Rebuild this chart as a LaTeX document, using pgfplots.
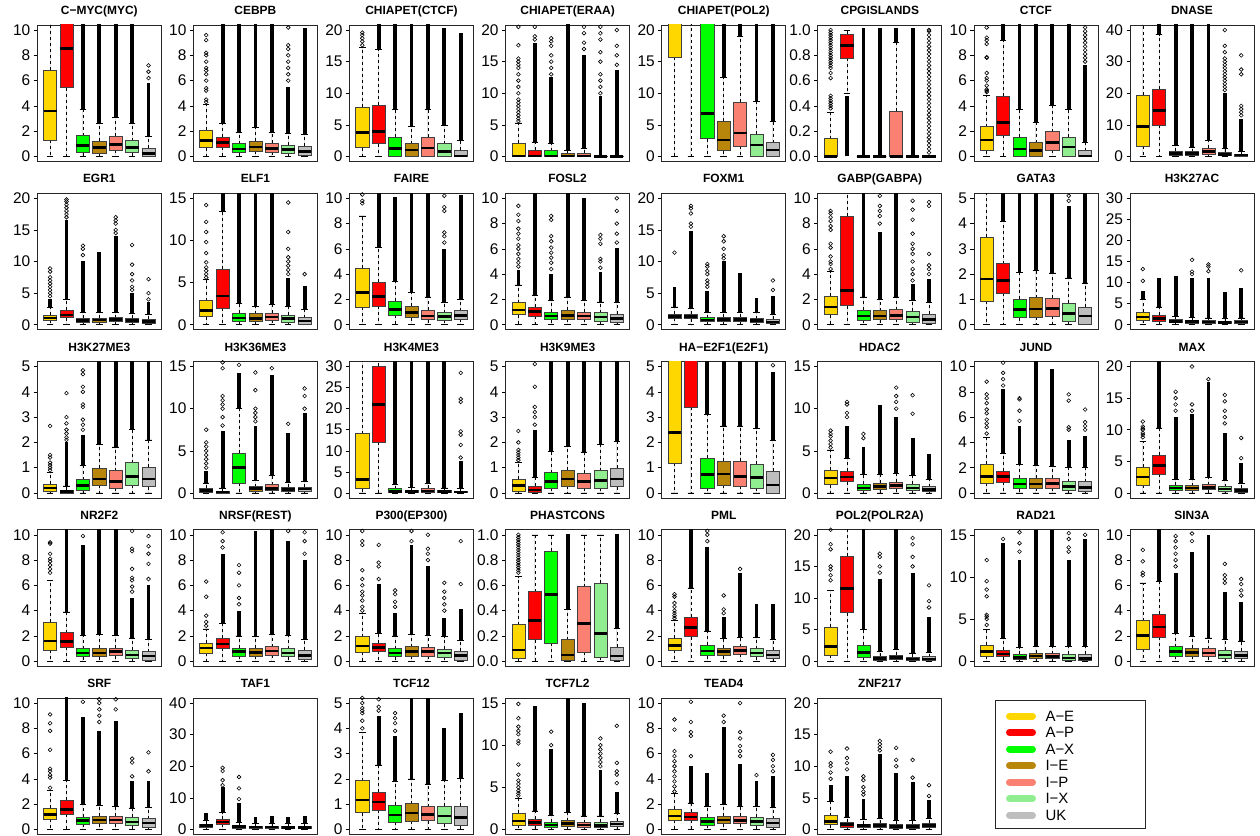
\documentclass[border=0pt]{standalone}
\usepackage{fontspec}
\setmainfont{Liberation Sans}
\usepackage{pgfplots}
\pgfplotsset{compat=1.18}
\usepgfplotslibrary{statistics}

\definecolor{c1}{HTML}{FFD700}
\definecolor{c2}{HTML}{FF0000}
\definecolor{c3}{HTML}{00FF00}
\definecolor{c4}{HTML}{B8860B}
\definecolor{c5}{HTML}{FA8072}
\definecolor{c6}{HTML}{90EE90}
\definecolor{c7}{HTML}{BEBEBE}

\pgfplotsset{
  boxplot/draw direction=y,
  boxplot/draw/lower whisker/.code={%
    \draw[black, line width=0.6bp, dash pattern=on 3bp off 3bp]
      (boxplot box cs:\pgfplotsboxplotvalue{lower quartile},0.5) --
      (boxplot box cs:\pgfplotsboxplotvalue{lower whisker},0.5);
    \draw[black, line width=0.6bp]
      (boxplot whisker cs:\pgfplotsboxplotvalue{lower whisker},0) --
      (boxplot whisker cs:\pgfplotsboxplotvalue{lower whisker},1);
  },
  boxplot/draw/upper whisker/.code={%
    \draw[black, line width=0.6bp, dash pattern=on 3bp off 3bp]
      (boxplot box cs:\pgfplotsboxplotvalue{upper quartile},0.5) --
      (boxplot box cs:\pgfplotsboxplotvalue{upper whisker},0.5);
    \draw[black, line width=0.6bp]
      (boxplot whisker cs:\pgfplotsboxplotvalue{upper whisker},0) --
      (boxplot whisker cs:\pgfplotsboxplotvalue{upper whisker},1);
  },
  boxplot/every median/.style={black, line width=2.6bp},
  boxplot/box extend=0.8,
  boxplot/whisker extend=0.4,
  base/.style={scale only axis, width=124bp, height=136.5bp,
    xmin=0.22, xmax=7.78, xtick=\empty,
    ytick pos=left, tick align=outside, major tick length=3.5bp,
    every tick/.style={black, line width=0.6bp},
    axis line style={black!85, line width=0.7bp},
    title style={font=\bfseries\fontsize{12}{14}\selectfont, at={(0.5,1)}, anchor=base, yshift=4.5bp},
    yticklabel style={font=\fontsize{15.5}{16}\selectfont},
    /pgf/number format/assume math mode=true,
    anchor=north west},
  pos/.style 2 args={at={(37.3bp+156.1bp*#1, 811bp-168.25bp*#2)}},
  r10/.style={ymin=-0.4, ymax=10.4, ytick={0,2,4,6,8,10}},
  r20/.style={ymin=-0.8, ymax=20.8, ytick={0,5,10,15,20}},
  r1/.style={ymin=-0.04, ymax=1.04, ytick={0,0.2,0.4,0.6,0.8,1},
     yticklabel style={/pgf/number format/.cd, fixed, fixed zerofill, precision=1}},
  r40/.style={ymin=-1.6, ymax=41.6, ytick={0,10,20,30,40}},
  r15/.style={ymin=-0.6, ymax=15.6, ytick={0,5,10,15}},
  r5/.style={ymin=-0.2, ymax=5.2, ytick={0,1,2,3,4,5}},
  r30/.style={ymin=-1.2, ymax=31.2, ytick={0,5,10,15,20,25,30}},
}

% \bx{pos}{lower whisker}{q1}{median}{q3}{upper whisker}{top of dense outliers}{sparse outliers}
\newcommand{\bx}[8]{%
  \addplot[boxplot prepared={draw position=#1, lower whisker=#2, lower quartile=#3,
      median=#4, upper quartile=#5, upper whisker=#6},
      draw=black!75, line width=0.6bp, fill=c#1] coordinates {};
  \if\relax\detokenize{#7}\relax\else
    \addplot[black, line width=3.8bp] coordinates {(#1,#6) (#1,#7)};
  \fi
  \if\relax\detokenize{#8}\relax\else
    \gdef\bxpts{}%
    \foreach \v in {#8}{\xdef\bxpts{\bxpts (#1,\v)}}%
    \edef\bxtmp{\noexpand\addplot[only marks, mark=o, mark size=1.9bp, black, mark options={line width=0.6bp}] coordinates {\bxpts};}%
    \bxtmp
  \fi
}

\begin{document}
\begin{tikzpicture}
\useasboundingbox (0,0) rectangle (1260bp,836bp);

% ---------------- Row 1 ----------------
\begin{axis}[base, pos={0}{0}, r10, title={C−MYC(MYC)}]
\bx{1}{0}{1.3}{3.6}{6.85}{12}{}{}
\bx{2}{0}{5.45}{8.55}{12}{14}{}{}
\bx{3}{0}{0.3}{0.85}{1.65}{3.7}{10.5}{}
\bx{4}{0}{0.25}{0.7}{1.2}{2.6}{10.5}{}
\bx{5}{0}{0.5}{0.95}{1.6}{3.1}{10.5}{}
\bx{6}{0}{0.3}{0.7}{1.25}{2.6}{10.5}{}
\bx{7}{0}{0.05}{0.25}{0.65}{1.6}{5.8}{6.2,6.7,7.2}
\end{axis}

\begin{axis}[base, pos={1}{0}, r10, title={CEBPB}]
\bx{1}{0}{0.7}{1.25}{2.1}{4.1}{}{4.3,4.5,5.2,5.4,6.0,6.5,6.8,7.0,7.5,8.0,8.2,9.2,9.6}
\bx{2}{0}{0.75}{1.1}{1.55}{2.6}{10.5}{}
\bx{3}{0}{0.3}{0.6}{1.0}{1.9}{10.5}{}
\bx{4}{0}{0.4}{0.75}{1.2}{2.3}{10.5}{}
\bx{5}{0}{0.35}{0.65}{1.05}{1.9}{10.5}{}
\bx{6}{0}{0.25}{0.55}{0.9}{1.8}{5.5}{6.0,6.5,7.0,7.5,8.0,8.5,8.8,10.2}
\bx{7}{0}{0.1}{0.4}{0.8}{1.75}{10.2}{}
\end{axis}

\begin{axis}[base, pos={2}{0}, r20, title={CHIAPET(CTCF)}]
\bx{1}{0}{1.4}{3.8}{7.85}{17.2}{}{17.6,18.2,18.7,19.2,19.6}
\bx{2}{0}{2.0}{3.9}{8.1}{17.0}{21}{}
\bx{3}{0}{0.05}{1.25}{3.0}{7.4}{21}{}
\bx{4}{0}{0.05}{1.0}{2.0}{4.8}{21}{}
\bx{5}{0}{0.05}{1.35}{3.0}{7.4}{21}{}
\bx{6}{0}{0.05}{0.8}{2.0}{4.9}{20.3}{}
\bx{7}{0}{0}{0.05}{1.0}{2.5}{19.5}{}
\end{axis}

\begin{axis}[base, pos={3}{0}, r20, title={CHIAPET(ERAA)}]
\bx{1}{0}{0}{0.05}{2.1}{5.3}{}{5.6,6,6.5,7,7.5,8,8.5,9,10,11,12,13,14,14.5,15,15.5,17.6,20.5}
\bx{2}{0}{0}{0.05}{1.0}{2.3}{18}{18.5,19,20.5}
\bx{3}{0}{0}{0.05}{0.9}{2.1}{12.5}{13,14,15,16,17.5,18.2,18.7}
\bx{4}{0}{0}{0.05}{0.45}{1.0}{21}{}
\bx{5}{0}{0}{0.1}{0.55}{1.3}{16}{17,18,19.5,20.5}
\bx{6}{0}{0}{0}{0.1}{0.2}{9.5}{10,11,12,13,15,16.5,18.5,19.5,20.5}
\bx{7}{0}{0}{0}{0.1}{0.2}{13.7}{14.5,16,17.5,20}
\end{axis}

\begin{axis}[base, pos={4}{0}, r20, title={CHIAPET(POL2)}]
\bx{1}{0}{15.7}{25}{30}{40}{}{}
\bx{2}{0}{25}{28}{30}{40}{}{}
\bx{3}{0}{2.8}{6.8}{25}{40}{}{}
\bx{4}{0}{0.9}{2.6}{5.6}{12.5}{21}{}
\bx{5}{0}{1.6}{3.7}{8.6}{19.0}{21}{}
\bx{6}{0}{0.05}{1.8}{3.5}{8.7}{21}{}
\bx{7}{0}{0.05}{1.0}{2.2}{5.5}{21}{}
\end{axis}

\begin{axis}[base, pos={5}{0}, r1, title={CPGISLANDS}]
\bx{1}{0}{0}{0}{0.14}{0.35}{}{0.38,0.4,0.42,0.44,0.46,0.48,0.62,0.66,0.7,0.72,0.74,0.76,0.78,0.8,0.82,0.84,0.86,0.88,0.9,0.92,0.94,0.96,0.98,1.0}
\bx{2}{0.5}{0.78}{0.88}{0.97}{1.0}{}{}
\addplot[black, line width=3.8bp] coordinates {(2,0) (2,0.48)};
\bx{3}{0}{0}{0}{0}{0}{1.02}{}
\bx{4}{0}{0}{0}{0}{0}{1.02}{}
\bx{5}{0}{0}{0}{0.36}{0.9}{1.02}{}
\bx{6}{0}{0}{0}{0}{0}{1.02}{}
\bx{7}{0}{0}{0}{0}{0}{}{0.03,0.06,0.09,0.12,0.15,0.18,0.21,0.24,0.27,0.3,0.33,0.36,0.39,0.42,0.45,0.48,0.51,0.54,0.57,0.6,0.63,0.66,0.69,0.72,0.75,0.78,0.81,0.84,0.87,0.9,0.93,0.96,0.99,1.0}
\end{axis}

\begin{axis}[base, pos={6}{0}, r10, title={CTCF}]
\bx{1}{0}{0.45}{1.3}{2.35}{4.85}{}{5.1,5.2,5.3,5.6,6.0,6.2,6.6,7.8,7.85,8.9,9.2,9.4,10.2}
\bx{2}{0}{1.7}{2.7}{4.75}{9.2}{10.5}{}
\bx{3}{0}{0}{0.6}{1.5}{3.75}{10.5}{}
\bx{4}{0}{0}{0.45}{1.1}{2.7}{10.5}{}
\bx{5}{0}{0.5}{1.1}{1.95}{4.05}{10.5}{}
\bx{6}{0}{0}{0.75}{1.5}{3.7}{10.5}{}
\bx{7}{0}{0}{0.05}{0.45}{1.1}{7.2}{7.5,7.8,8.1,8.4,8.7,9.0,9.3,9.6,9.9,10.2}
\end{axis}

\begin{axis}[base, pos={7}{0}, r40, title={DNASE}]
\bx{1}{0}{3.2}{9.5}{19.5}{45}{}{}
\bx{2}{0}{9.8}{14.6}{21.4}{38.5}{42}{}
\bx{3}{0}{0.4}{0.9}{1.6}{3.5}{42}{}
\bx{4}{0}{0.4}{0.9}{1.5}{3.0}{42}{}
\bx{5}{0}{0.8}{1.6}{2.6}{5.0}{42}{}
\bx{6}{0}{0.3}{0.7}{1.3}{2.6}{20}{21,22,23,24,25,26,27,28,29,30,31,33,35,40}
\bx{7}{0}{0.1}{0.4}{0.8}{1.5}{12}{13,14,15,16,26,27.5,32}
\end{axis}

% ---------------- Row 2 ----------------
\begin{axis}[base, pos={0}{1}, r20, title={EGR1}]
\bx{1}{0}{0.7}{1.05}{1.5}{2.7}{4}{4.5,5,5.5,6,6.5,7,7.5,8.4,8.9}
\bx{2}{0}{1.1}{1.55}{2.3}{4.0}{16.5}{17,17.5,18,18.5,19,19.5,19.8}
\bx{3}{0}{0.4}{0.7}{1.0}{1.9}{10}{11,12,12.5}
\bx{4}{0}{0.45}{0.75}{1.05}{1.95}{11.5}{}
\bx{5}{0}{0.5}{0.8}{1.1}{2.0}{14}{14.5,15,16,16.5,17}
\bx{6}{0}{0.35}{0.65}{1.0}{1.75}{5}{5.5,6,7,8,9.5,12.6}
\bx{7}{0}{0.2}{0.5}{0.85}{1.6}{3.6}{4,5,7.2}
\end{axis}

\begin{axis}[base, pos={1}{1}, r15, title={ELF1}]
\bx{1}{0}{0.95}{1.7}{2.85}{5.4}{}{5.6,6,6.4,6.8,7.4,8.5,9.8,11,12.2,14.2}
\bx{2}{0}{1.95}{3.4}{6.55}{13.4}{15.6}{}
\bx{3}{0}{0.35}{0.8}{1.35}{2.5}{15.6}{}
\bx{4}{0}{0.4}{0.75}{1.3}{2.2}{15.6}{}
\bx{5}{0}{0.5}{0.9}{1.4}{2.4}{15.6}{}
\bx{6}{0}{0.3}{0.7}{1.15}{2.2}{5.5}{6,6.5,7,7.5,8,9,11,14.5}
\bx{7}{0}{0.1}{0.45}{0.85}{1.8}{4.6}{6}
\end{axis}

\begin{axis}[base, pos={2}{1}, r10, title={FAIRE}]
\bx{1}{0}{1.4}{2.55}{4.45}{8.6}{}{9.6,9.8,10.3}
\bx{2}{0}{1.45}{2.25}{3.35}{6.1}{10.5}{}
\bx{3}{0}{0.75}{1.2}{1.85}{3.4}{10.1}{}
\bx{4}{0}{0.55}{0.95}{1.45}{2.55}{10.5}{}
\bx{5}{0}{0.4}{0.7}{1.15}{2.2}{10.5}{}
\bx{6}{0}{0.35}{0.65}{0.95}{1.75}{6}{6.5,7,7.3,9,9.3,10.2}
\bx{7}{0}{0.45}{0.75}{1.1}{2.0}{10.3}{}
\end{axis}

\begin{axis}[base, pos={3}{1}, r10, title={FOSL2}]
\bx{1}{0}{0.8}{1.15}{1.75}{3.15}{4.3}{4.6,4.9,5.2,5.6,6,6.3,6.8,7.2,7.6,8.2,8.7,9.4}
\bx{2}{0}{0.7}{1.05}{1.4}{2.35}{10.5}{}
\bx{3}{0}{0.4}{0.7}{1.0}{1.9}{4}{4.4,4.9,5.3,5.7,6.1,6.6,7,8.3,8.6}
\bx{4}{0}{0.45}{0.75}{1.15}{2.2}{10.5}{}
\bx{5}{0}{0.45}{0.7}{1.0}{1.9}{10}{}
\bx{6}{0}{0.3}{0.6}{0.95}{1.8}{4.2}{4.5,5,5.2,6.4,6.8,7.1}
\bx{7}{0}{0.2}{0.5}{0.85}{1.75}{6.1}{6.5,7.2,8,9,10}
\end{axis}

\begin{axis}[base, pos={4}{1}, r20, title={FOXM1}]
\bx{1}{0}{1.0}{1.3}{1.65}{2.8}{6}{11.4}
\bx{2}{0}{0.95}{1.25}{1.65}{2.6}{14.8}{15.5,16,17.6,18.4,18.8}
\bx{3}{0}{0.5}{0.75}{1.1}{1.9}{5.3}{6,6.5,7,8,8.5,9.2,9.6}
\bx{4}{0}{0.55}{0.8}{1.15}{2.0}{10}{10.5,11,12,13.2,14}
\bx{5}{0}{0.6}{0.85}{1.15}{2.0}{8.1}{}
\bx{6}{0}{0.4}{0.65}{0.95}{1.9}{4.2}{}
\bx{7}{0}{0.2}{0.45}{0.85}{1.6}{4.5}{5.5,7}
\end{axis}

\begin{axis}[base, pos={5}{1}, r10, title={GABP(GABPA)}]
\bx{1}{0}{0.8}{1.4}{2.25}{4.2}{}{4.4,4.8,5.0,5.4,6.1,6.4,7.5,7.8,8.2,8.5,8.8,9.0}
\bx{2}{0}{1.5}{2.7}{8.6}{19}{}{}
\bx{3}{0}{0.35}{0.7}{1.15}{2.2}{10.5}{}
\bx{4}{0}{0.4}{0.7}{1.1}{2.0}{7.3}{8,8.6,9,9.4,10.2}
\bx{5}{0}{0.45}{0.75}{1.2}{2.2}{10.5}{}
\bx{6}{0}{0.2}{0.6}{1.05}{1.95}{3.2}{3.5,4,4.4,5,5.6,6,6.4,7.2,8.3,9.1,9.8}
\bx{7}{0}{0.1}{0.4}{0.85}{1.75}{3.6}{4,4.4,4.7,5.6,9.4,9.7}
\end{axis}

\begin{axis}[base, pos={6}{1}, r5, title={GATA3}]
\bx{1}{0}{0.92}{1.8}{3.45}{6}{}{}
\bx{2}{0}{1.25}{1.75}{2.42}{4.1}{5.2}{}
\bx{3}{0}{0.28}{0.6}{1.02}{2.08}{5.2}{}
\bx{4}{0}{0.3}{0.62}{1.07}{2.15}{5.2}{}
\bx{5}{0}{0.35}{0.65}{1.05}{2.05}{5.2}{}
\bx{6}{0}{0.15}{0.45}{0.85}{1.85}{4.7}{4.9,5.1}
\bx{7}{0}{0}{0.35}{0.68}{1.65}{5.2}{}
\end{axis}

\begin{axis}[base, pos={7}{1}, r30, title={H3K27AC}]
\bx{1}{0}{1.0}{1.8}{3.0}{6.0}{8}{10.4,13.2}
\bx{2}{0}{0.9}{1.5}{2.3}{4.2}{11.2}{}
\bx{3}{0}{0.5}{0.8}{1.2}{2.0}{11.5}{}
\bx{4}{0}{0.4}{0.7}{1.1}{1.8}{11}{12,12.6,15.4}
\bx{5}{0}{0.35}{0.6}{0.95}{1.6}{11}{12.7,13.8,14.3}
\bx{6}{0}{0.3}{0.55}{0.9}{1.5}{7.8}{}
\bx{7}{0}{0.3}{0.6}{0.95}{1.6}{8.6}{12.9}
\end{axis}

% ---------------- Row 3 ----------------
\begin{axis}[base, pos={0}{2}, r5, title={H3K27ME3}]
\bx{1}{0}{0.07}{0.2}{0.35}{0.8}{}{0.9,1.0,1.1,1.2,1.4,1.5,2.65}
\bx{2}{0}{0}{0.05}{0.12}{0.28}{2.0}{2.1,2.2,2.35,2.5,2.75,3.0,3.95}
\bx{3}{0}{0.12}{0.3}{0.52}{1.1}{2.3}{2.5,2.7,2.9,3.4,3.5,4.0,4.2,4.7,4.85}
\bx{4}{0}{0.3}{0.55}{0.97}{1.92}{5.2}{}
\bx{5}{0}{0.2}{0.45}{0.88}{1.82}{5.2}{}
\bx{6}{0}{0.3}{0.65}{1.2}{2.5}{5.2}{}
\bx{7}{0}{0.25}{0.55}{1.03}{2.1}{5.2}{}
\end{axis}

\begin{axis}[base, pos={1}{2}, r15, title={H3K36ME3}]
\bx{1}{0}{0.1}{0.3}{0.55}{1.2}{2.6}{3,3.5,4,4.5,5,5.5,6,7.5}
\bx{2}{0}{0}{0.1}{0.25}{0.6}{7.3}{8,9,10,10.5,11,11.5,14.8,15.5}
\bx{3}{0}{1.2}{3.0}{4.75}{10.0}{14.2}{15.2}
\bx{4}{0}{0.25}{0.5}{0.75}{1.5}{8}{8.5,9,9.5,10,12.2,14.3}
\bx{5}{0}{0.3}{0.55}{1.0}{2.1}{14}{14.8}
\bx{6}{0}{0.2}{0.4}{0.65}{1.3}{7.1}{8.2}
\bx{7}{0}{0.25}{0.45}{0.7}{1.4}{9.5}{10,11.5,12.4}
\end{axis}

\begin{axis}[base, pos={2}{2}, r30, title={H3K4ME3}]
\bx{1}{0}{1.0}{3.2}{14.1}{40}{}{}
\bx{2}{0}{12.0}{21.0}{30.1}{45}{}{}
\bx{3}{0}{0.1}{0.4}{1.0}{2.0}{31.5}{}
\bx{4}{0}{0.1}{0.3}{0.7}{1.3}{31.5}{}
\bx{5}{0}{0.2}{0.5}{1.1}{2.3}{31.5}{}
\bx{6}{0}{0.1}{0.3}{0.6}{1.2}{31.5}{}
\bx{7}{0}{0.05}{0.2}{0.5}{1.0}{7.5}{8.4,11.4,13.8,14.6,21.6,22.3,28.5}
\end{axis}

\begin{axis}[base, pos={3}{2}, r5, title={H3K9ME3}]
\bx{1}{0}{0.08}{0.3}{0.55}{1.2}{}{1.3,1.4,1.5,1.6,1.7,2.0,2.45}
\bx{2}{0}{0.02}{0.12}{0.27}{0.6}{2.5}{2.7,3.0,3.2,3.4,4.2,5.1}
\bx{3}{0}{0.2}{0.45}{0.8}{1.65}{5.2}{}
\bx{4}{0}{0.28}{0.55}{0.9}{1.83}{5.2}{}
\bx{5}{0}{0.2}{0.45}{0.78}{1.62}{5.2}{}
\bx{6}{0}{0.2}{0.5}{0.88}{1.92}{5.2}{}
\bx{7}{0}{0.25}{0.55}{0.98}{2.05}{5.2}{}
\end{axis}

\begin{axis}[base, pos={4}{2}, r5, title={HA−E2F1(E2F1)}]
\bx{1}{0}{1.18}{2.38}{6}{8}{}{}
\bx{2}{0}{3.38}{5.5}{7}{9}{}{}
\bx{3}{0}{0.2}{0.72}{1.37}{3.1}{5.2}{}
\bx{4}{0}{0.3}{0.75}{1.27}{2.65}{5.2}{}
\bx{5}{0}{0.27}{0.66}{1.25}{2.65}{5.2}{}
\bx{6}{0}{0.2}{0.61}{1.15}{2.55}{5.2}{}
\bx{7}{0}{0}{0.32}{0.85}{2.08}{4.8}{5.05}
\end{axis}

\begin{axis}[base, pos={5}{2}, r15, title={HDAC2}]
\bx{1}{0}{1.0}{1.75}{2.7}{5.1}{}{5.4,5.8,6.2,6.7,7,7.4}
\bx{2}{0}{1.35}{1.9}{2.55}{4.1}{8}{9,9.5,10.5,10.8}
\bx{3}{0}{0.35}{0.6}{1.05}{2.2}{5.5}{6.5,7}
\bx{4}{0}{0.4}{0.75}{1.15}{2.2}{10.4}{}
\bx{5}{0}{0.5}{0.85}{1.3}{2.3}{9}{10,10.8,11.5,12.5}
\bx{6}{0}{0.3}{0.6}{1.05}{2.1}{6.5}{9.4,11.6}
\bx{7}{0}{0.2}{0.4}{0.75}{1.6}{4.6}{}
\end{axis}

\begin{axis}[base, pos={6}{2}, r10, title={JUND}]
\bx{1}{0}{0.75}{1.3}{2.3}{4.4}{}{4.7,5.2,5.5,5.8,6.3,6.6,7.1,7.5,7.8,8.8}
\bx{2}{0}{0.85}{1.3}{1.75}{3.1}{8.2}{8.5,9,9.5,10.3}
\bx{3}{0}{0.35}{0.7}{1.15}{2.25}{5.3}{5.7,6.5,7.4,7.5}
\bx{4}{0}{0.4}{0.7}{1.15}{2.2}{10.5}{}
\bx{5}{0}{0.4}{0.75}{1.15}{2.1}{9.8}{}
\bx{6}{0}{0.2}{0.5}{0.9}{2.0}{4.2}{5,5.2,7.3,7.8}
\bx{7}{0}{0.1}{0.45}{0.9}{2.05}{4.5}{5,5.3,5.6,6.6}
\end{axis}

\begin{axis}[base, pos={7}{2}, r20, title={MAX}]
\bx{1}{0}{1.2}{2.5}{4.05}{8.1}{}{8.8,9.2,9.5,10,10.2,10.5,11.3}
\bx{2}{0}{3.0}{4.3}{6.0}{10.3}{21}{}
\bx{3}{0}{0.4}{0.75}{1.2}{2.2}{12}{13,14,15,16}
\bx{4}{0}{0.4}{0.75}{1.15}{2.1}{12.5}{13,14,20}
\bx{5}{0}{0.5}{0.85}{1.3}{2.4}{17.5}{18}
\bx{6}{0}{0.3}{0.6}{1.0}{2.0}{9.5}{11,12,13,14.5,15.5}
\bx{7}{0}{0.15}{0.4}{0.75}{1.5}{4.7}{5.5,8.7}
\end{axis}

% ---------------- Row 4 ----------------
\begin{axis}[base, pos={0}{3}, r10, title={NR2F2}]
\bx{1}{0}{0.85}{1.6}{3.1}{6.4}{}{7,7.3,7.6,7.9,8.1,8.5,9.3,9.4}
\bx{2}{0}{1.1}{1.55}{2.25}{3.9}{10.5}{}
\bx{3}{0}{0.35}{0.65}{1.0}{2.05}{9.2}{9.9}
\bx{4}{0}{0.35}{0.65}{1.05}{2.1}{10.5}{}
\bx{5}{0}{0.45}{0.75}{1.05}{2.05}{10.5}{}
\bx{6}{0}{0.2}{0.5}{0.9}{1.85}{5}{5.5,5.9,6.4,6.6,7.3,8.7,8.9,10.3}
\bx{7}{0}{0.1}{0.4}{0.75}{1.7}{6}{6.5,7.7,8.5,9.1,9.9}
\end{axis}

\begin{axis}[base, pos={1}{3}, r10, title={NRSF(REST)}]
\bx{1}{0}{0.65}{1.05}{1.4}{2.55}{}{2.8,3.1,3.6,5.1,6.3}
\bx{2}{0}{1.05}{1.35}{1.8}{3.0}{8.5}{9,9.5,10.2}
\bx{3}{0}{0.4}{0.75}{1.05}{2.0}{4}{4.5,5,6,7,7.6}
\bx{4}{0}{0.4}{0.7}{1.05}{1.95}{10.3}{}
\bx{5}{0}{0.5}{0.8}{1.15}{2.1}{10.5}{}
\bx{6}{0}{0.35}{0.65}{1.0}{2.05}{9.5}{10.3}
\bx{7}{0}{0.15}{0.45}{0.85}{1.7}{8}{8.5,9.5,10.2}
\end{axis}

\begin{axis}[base, pos={2}{3}, r10, title={P300(EP300)}]
\bx{1}{0}{0.7}{1.2}{1.95}{3.75}{}{4,4.3,4.8,5.2,5.5,6,6.5,7.2,9.2,9.5,10.3}
\bx{2}{0}{0.8}{1.1}{1.45}{2.2}{6.1}{6.5,7.5,7.8,9.2}
\bx{3}{0}{0.35}{0.65}{1.0}{2.0}{3.8}{4.3,4.7,5.3,5.6}
\bx{4}{0}{0.4}{0.75}{1.15}{2.1}{9.2}{9.5,10.3}
\bx{5}{0}{0.4}{0.75}{1.1}{2.05}{7.5}{8,8.5,8.9,10}
\bx{6}{0}{0.3}{0.65}{0.95}{1.95}{3.4}{4,4.5,5,5.5,6.2}
\bx{7}{0}{0.1}{0.45}{0.8}{1.65}{4.1}{6.1,9.5}
\end{axis}

\begin{axis}[base, pos={3}{3}, r1, title={PHASTCONS}]
\bx{1}{0}{0.02}{0.09}{0.29}{0.67}{}{0.7,0.72,0.74,0.76,0.78,0.8,0.82,0.84,0.86,0.88,0.9,0.92,0.94,0.96,0.98,1.0}
\bx{2}{0}{0.17}{0.32}{0.55}{1.0}{}{}
\bx{3}{0}{0.14}{0.53}{0.87}{1.0}{}{}
\bx{4}{0}{0.005}{0.05}{0.17}{0.41}{1.01}{}
\bx{5}{0}{0.07}{0.3}{0.59}{1.0}{}{}
\bx{6}{0}{0.03}{0.22}{0.62}{1.0}{}{}
\bx{7}{0}{0.01}{0.04}{0.11}{0.26}{1.01}{}
\end{axis}

\begin{axis}[base, pos={4}{3}, r10, title={PML}]
\bx{1}{0}{0.85}{1.25}{1.8}{3.2}{}{3.4,3.6,3.8,4,4.3,4.6,5.1,5.3}
\bx{2}{0}{1.95}{2.65}{3.5}{5.8}{10.5}{}
\bx{3}{0}{0.45}{0.8}{1.25}{2.4}{9}{9.5,10,10.3}
\bx{4}{0}{0.45}{0.75}{1.05}{1.8}{3.5}{3.8,4.1,5.2}
\bx{5}{0}{0.55}{0.85}{1.15}{1.9}{7}{7.3}
\bx{6}{0}{0.35}{0.65}{1.0}{1.9}{4.5}{}
\bx{7}{0}{0.2}{0.5}{0.85}{1.7}{4.5}{}
\end{axis}

\begin{axis}[base, pos={5}{3}, r20, title={POL2(POLR2A)}]
\bx{1}{0}{1.0}{2.3}{5.4}{11.2}{}{12.8,13.6,14.5,15,17.7,18.5,20.8}
\bx{2}{0}{7.7}{11.5}{16.6}{25}{}{}
\bx{3}{0}{0.6}{1.4}{2.5}{5.0}{21}{}
\bx{4}{0}{0.15}{0.45}{0.8}{1.5}{13}{14,15,16.5,17}
\bx{5}{0}{0.3}{0.6}{0.95}{1.9}{21}{}
\bx{6}{0}{0.1}{0.35}{0.65}{1.3}{14}{15,16.5,18.5,19.5}
\bx{7}{0}{0.1}{0.35}{0.7}{1.4}{7}{8.5,9.5,12}
\end{axis}

\begin{axis}[base, pos={6}{3}, r15, title={RAD21}]
\bx{1}{0}{0.6}{1.15}{1.9}{3.8}{}{4.3,5,5.3,5.5,7.7,8.5,9.5,12}
\bx{2}{0}{0.55}{0.85}{1.35}{2.7}{14}{14.5}
\bx{3}{0}{0.2}{0.45}{0.8}{1.6}{12}{13,14,15.3}
\bx{4}{0}{0.3}{0.6}{0.95}{1.8}{15.6}{}
\bx{5}{0}{0.3}{0.55}{0.9}{1.75}{15.6}{}
\bx{6}{0}{0.15}{0.4}{0.8}{1.8}{12}{13,13.5,14.5,15.2}
\bx{7}{0}{0.1}{0.35}{0.8}{1.8}{14.5}{15}
\end{axis}

\begin{axis}[base, pos={7}{3}, r10, title={SIN3A}]
\bx{1}{0}{0.95}{2.05}{3.2}{6.2}{}{6.8,7,7.9,8.8}
\bx{2}{0}{1.9}{2.7}{3.7}{6.3}{10.5}{}
\bx{3}{0}{0.4}{0.75}{1.15}{2.2}{7}{7.5,8,8.5,9,9.5,9.9}
\bx{4}{0}{0.4}{0.7}{1.05}{1.95}{8.6}{9.5,10.1}
\bx{5}{0}{0.35}{0.65}{1.0}{1.85}{10}{}
\bx{6}{0}{0.25}{0.5}{0.85}{1.7}{5.5}{6.2,6.5,6.8,7.7}
\bx{7}{0}{0.2}{0.45}{0.8}{1.6}{4.7}{5.2,5.6,6.1,6.5}
\end{axis}

% ---------------- Row 5 ----------------
\begin{axis}[base, pos={0}{4}, r10, title={SRF}]
\bx{1}{0}{0.8}{1.2}{1.7}{3.1}{}{3.3,4.1,4.3,4.6,4.8,6.3,7.8,8.4,9.1}
\bx{2}{0}{1.2}{1.6}{2.3}{3.9}{10.5}{}
\bx{3}{0}{0.4}{0.7}{1.0}{1.95}{8.9}{10.1}
\bx{4}{0}{0.45}{0.75}{1.05}{1.9}{7.8}{8.5,9,9.5,10,10.3}
\bx{5}{0}{0.45}{0.75}{1.05}{1.85}{8.6}{9.5,10.3}
\bx{6}{0}{0.3}{0.6}{0.95}{1.7}{3.8}{4.2,5.3,5.6}
\bx{7}{0}{0.2}{0.5}{0.85}{1.75}{3.8}{4.6,6.1}
\end{axis}

\begin{axis}[base, pos={1}{4}, r40, title={TAF1}]
\bx{1}{0}{0.7}{1.2}{1.7}{2.9}{5.2}{}
\bx{2}{0}{1.7}{2.3}{3.2}{5.3}{13.5}{14,15.6,18.5,19.5}
\bx{3}{0}{0.5}{0.9}{1.3}{2.2}{8.3}{9.6,13,16.6}
\bx{4}{0}{0.5}{0.8}{1.1}{1.9}{3.9}{}
\bx{5}{0}{0.45}{0.8}{1.15}{2.0}{4.4}{}
\bx{6}{0}{0.4}{0.7}{1.05}{1.8}{3.9}{}
\bx{7}{0}{0.4}{0.7}{1.0}{1.8}{4.2}{}
\end{axis}

\begin{axis}[base, pos={2}{4}, r5, title={TCF12}]
\bx{1}{0}{0.67}{1.17}{1.93}{3.85}{}{4.0,4.3,4.6,4.7,4.8,5.0,5.2}
\bx{2}{0}{0.77}{1.08}{1.48}{2.55}{4.5}{4.7,4.85,5.15}
\bx{3}{0}{0.3}{0.57}{0.95}{1.9}{3.7}{3.9,4.2,4.4,4.6}
\bx{4}{0}{0.33}{0.65}{1.02}{2.0}{5.2}{}
\bx{5}{0}{0.35}{0.6}{0.9}{1.8}{5.2}{}
\bx{6}{0}{0.23}{0.53}{0.92}{1.93}{4.0}{}
\bx{7}{0}{0.15}{0.48}{0.92}{2.02}{4.6}{}
\end{axis}

\begin{axis}[base, pos={3}{4}, r15, title={TCF7L2}]
\bx{1}{0}{0.5}{1.0}{1.95}{3.7}{}{4,4.3,4.6,5,5.4,5.8,6.5,7.7,10.2,10.5,11.3,11.7,12.2,13.2,14.9}
\bx{2}{0}{0.45}{0.8}{1.2}{2.2}{14.7}{}
\bx{3}{0}{0.3}{0.55}{0.85}{1.7}{9.5}{10,11.6}
\bx{4}{0}{0.4}{0.7}{1.05}{2.0}{15.6}{}
\bx{5}{0}{0.3}{0.55}{0.8}{1.6}{15}{}
\bx{6}{0}{0.25}{0.5}{0.85}{1.6}{7}{7.5,8,8.5,9,9.5,10,10.8}
\bx{7}{0}{0.35}{0.65}{1.0}{1.9}{4.5}{5.5,6.5,6.9,7.9,12.3}
\end{axis}

\begin{axis}[base, pos={4}{4}, r10, title={TEAD4}]
\bx{1}{0}{0.75}{1.05}{1.6}{2.85}{}{3,3.4,3.8,4.2,4.6,5,5.4,5.8,6.2,7.9,8.7}
\bx{2}{0}{0.75}{1.0}{1.35}{2.1}{5}{5.8,7.4,7.7,8.5,10.1}
\bx{3}{0}{0.35}{0.65}{0.95}{1.85}{4.5}{}
\bx{4}{0}{0.45}{0.75}{1.05}{1.95}{8.1}{8.5,9}
\bx{5}{0}{0.45}{0.7}{1.05}{1.85}{5.2}{5.8,6.2,6.6,7.2,7.7,10}
\bx{6}{0}{0.3}{0.65}{0.95}{1.85}{3.8}{4.3}
\bx{7}{0}{0.2}{0.5}{0.85}{1.75}{4.2}{4.6,5,5.5,5.9}
\end{axis}

\begin{axis}[base, pos={5}{4}, r20, title={ZNF217}]
\bx{1}{0}{0.75}{1.3}{2.2}{4.4}{7}{8,9,10,10.5,12.3}
\bx{2}{0}{0.4}{0.75}{1.1}{2.0}{8.5}{9.5,10.5,11.3,12.8}
\bx{3}{0}{0.35}{0.6}{0.85}{1.6}{4.8}{5.5,6,6.7,7.8,8.4}
\bx{4}{0}{0.35}{0.65}{0.95}{1.8}{12}{12.5,13,13.5,14}
\bx{5}{0}{0.25}{0.5}{0.8}{1.4}{9}{10,11,12.9}
\bx{6}{0}{0.25}{0.45}{0.8}{1.4}{7.5}{8.2,11}
\bx{7}{0}{0.3}{0.6}{0.95}{1.8}{4.6}{5.3,7}
\end{axis}

% ---------------- Legend ----------------
\begin{axis}[at={(995bp,136bp)}, anchor=north west, scale only axis,
  width=150bp, height=128bp, xmin=995, xmax=1145, ymin=700, ymax=828,
  y dir=reverse, hide axis, clip=false]
\draw[black!85, line width=0.7bp] (axis cs:995,700) rectangle (axis cs:1145,828);
\addplot[c1, line width=7bp, line cap=round] coordinates {(1009.5,716) (1032.5,716)};
\addplot[c2, line width=7bp, line cap=round] coordinates {(1009.5,732.5) (1032.5,732.5)};
\addplot[c3, line width=7bp, line cap=round] coordinates {(1009.5,749) (1032.5,749)};
\addplot[c4, line width=7bp, line cap=round] coordinates {(1009.5,765.5) (1032.5,765.5)};
\addplot[c5, line width=7bp, line cap=round] coordinates {(1009.5,782) (1032.5,782)};
\addplot[c6, line width=7bp, line cap=round] coordinates {(1009.5,798.5) (1032.5,798.5)};
\addplot[c7, line width=7bp, line cap=round] coordinates {(1009.5,815) (1032.5,815)};
\node[anchor=west, font=\fontsize{15}{16}\selectfont] at (axis cs:1042,716) {A−E};
\node[anchor=west, font=\fontsize{15}{16}\selectfont] at (axis cs:1042,732.5) {A−P};
\node[anchor=west, font=\fontsize{15}{16}\selectfont] at (axis cs:1042,749) {A−X};
\node[anchor=west, font=\fontsize{15}{16}\selectfont] at (axis cs:1042,765.5) {I−E};
\node[anchor=west, font=\fontsize{15}{16}\selectfont] at (axis cs:1042,782) {I−P};
\node[anchor=west, font=\fontsize{15}{16}\selectfont] at (axis cs:1042,798.5) {I−X};
\node[anchor=west, font=\fontsize{15}{16}\selectfont] at (axis cs:1042,815) {UK};
\end{axis}
\end{tikzpicture}
\end{document}
